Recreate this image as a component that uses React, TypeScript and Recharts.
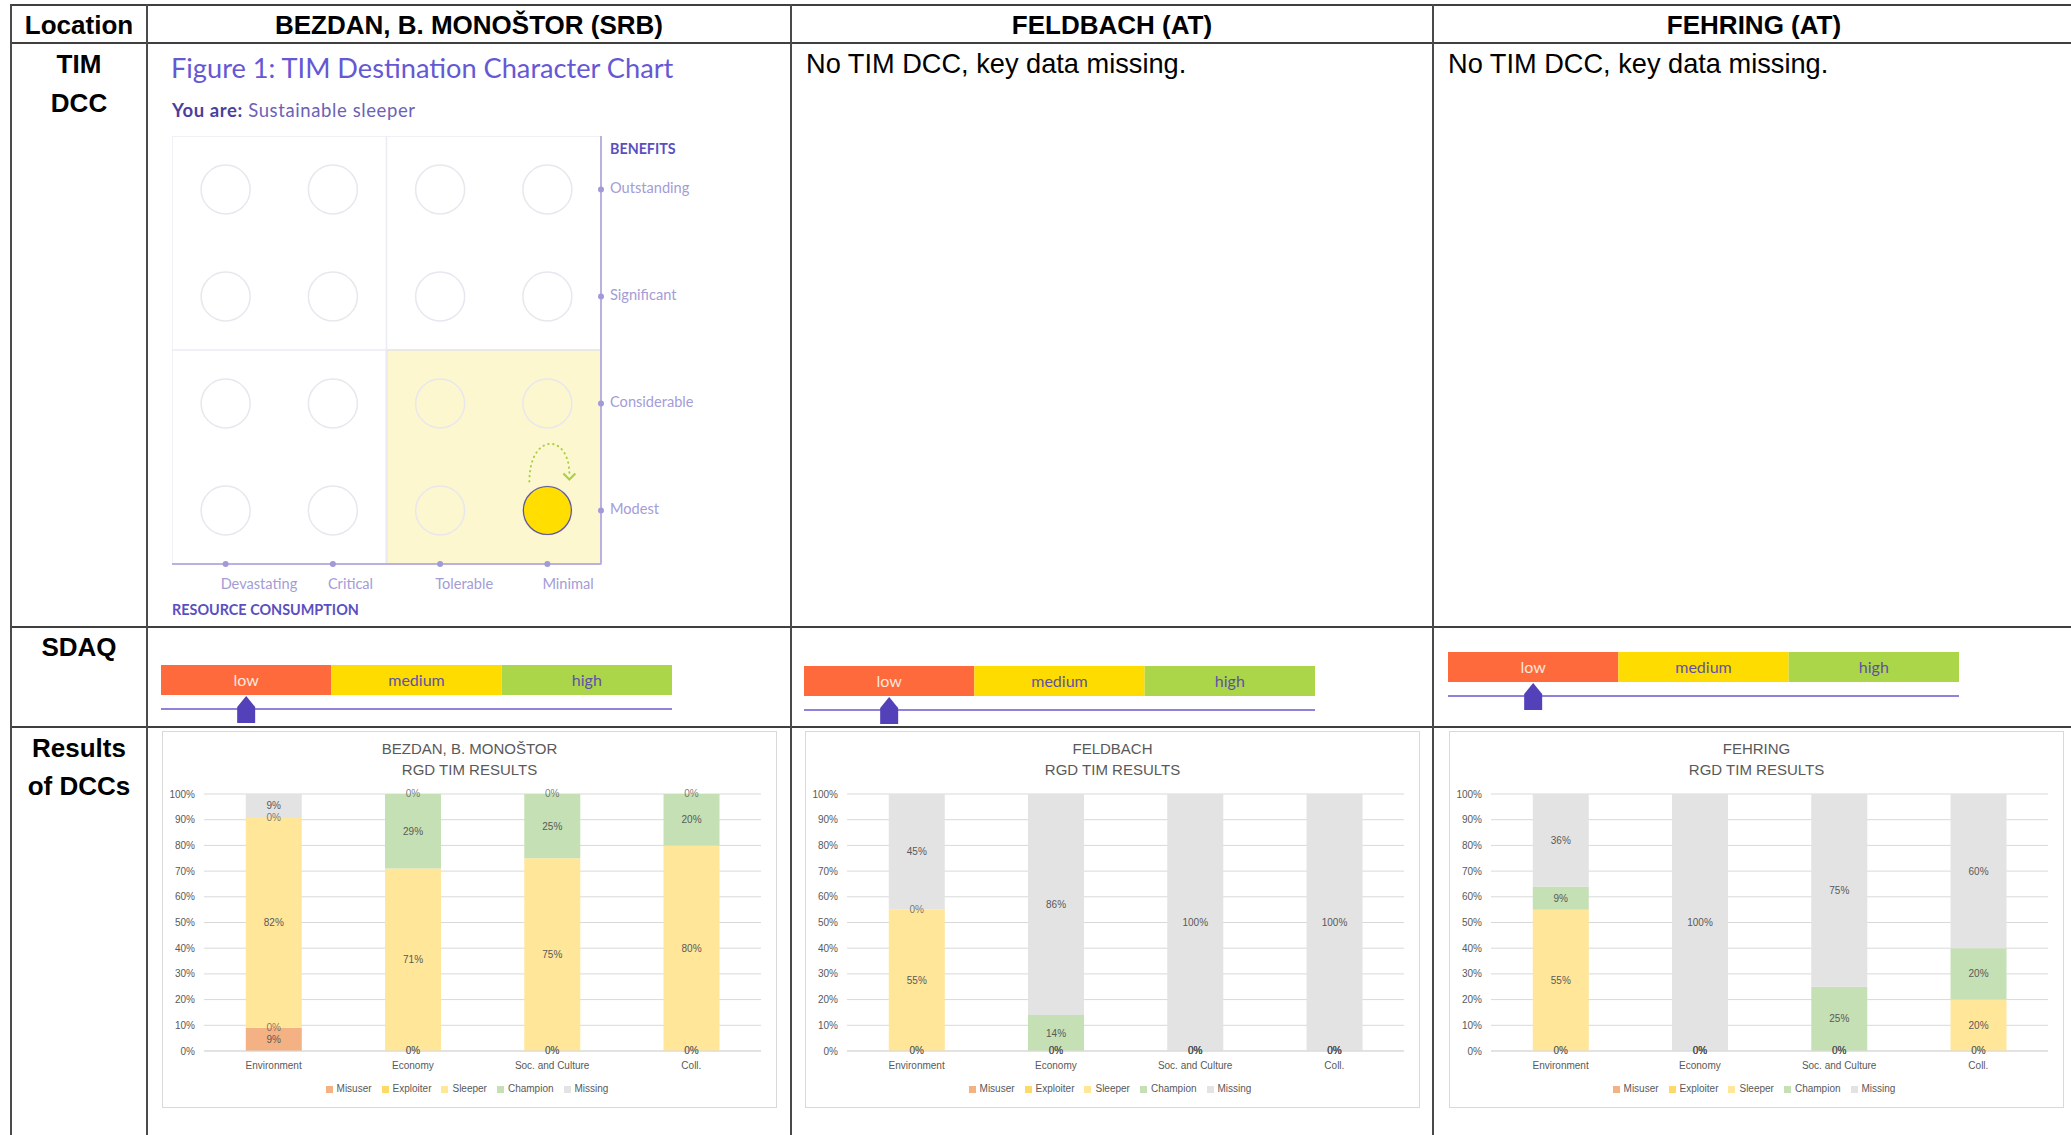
import React from "react";
import {
  Bar,
  BarChart,
  CartesianGrid,
  LabelList,
  Legend,
  ReferenceArea,
  ReferenceLine,
  Scatter,
  ScatterChart,
  XAxis,
  YAxis,
} from "recharts";

// ---- data ----
const LOCATIONS = ["BEZDAN, B. MONOŠTOR (SRB)", "FELDBACH (AT)", "FEHRING (AT)"];
const CHART_TITLES = ["BEZDAN, B. MONOŠTOR", "FELDBACH", "FEHRING"];
const DIMENSIONS = ["Environment", "Economy", "Soc. and Culture", "Coll."];
const TYPES = ["Misuser", "Exploiter", "Sleeper", "Champion", "Missing"];
const TYPE_COLORS = ["#f4b183", "#ffd966", "#ffe699", "#c5e0b4", "#e3e3e3"];
const Y_TICKS = [0, 10, 20, 30, 40, 50, 60, 70, 80, 90, 100];

// one row per type (Misuser..Missing), one column per dimension, in %
const BEZDAN_RESULTS = [
  [9, 0, 0, 0],
  [0, 0, 0, 0],
  [82, 71, 75, 80],
  [0, 29, 25, 20],
  [9, 0, 0, 0],
];
const FELDBACH_RESULTS = [
  [0, 0, 0, 0],
  [0, 0, 0, 0],
  [55, 0, 0, 0],
  [0, 14, 0, 0],
  [45, 86, 100, 100],
];
const FEHRING_RESULTS = [
  [0, 0, 0, 0],
  [0, 0, 0, 0],
  [55, 0, 0, 20],
  [9, 0, 25, 20],
  [36, 100, 75, 60],
];
const ALL_RESULTS = [BEZDAN_RESULTS, FELDBACH_RESULTS, FEHRING_RESULTS];

const SDAQ_LEVELS = ["low", "medium", "high"];
const SDAQ_BANDS = [1, 1, 1];
const SDAQ_COLORS = ["#ff6a3d", "#ffdc00", "#acd64a"];
const SDAQ_TEXT = ["#fde6dc", "#5e52a6", "#5e52a6"];
const SDAQ_SCORES = [0.5, 0.5, 0.5];

const DCC_RESOURCE = ["Devastating", "Critical", "Tolerable", "Minimal"];
const DCC_BENEFITS = ["Modest", "Considerable", "Significant", "Outstanding"];
const DCC_CURRENT = ["Minimal", "Modest"];

// ---- layout ----
const FONT = "'Liberation Sans', Arial, sans-serif";
const GEO = "Lato, 'Noto Sans', sans-serif";
const COL_LINES = [11, 147, 791, 1433];
const ROW_LINES = [5, 43, 627, 727];
const RESULT_LEFT = [162, 805, 1449];
const SDAQ_POS = [
  { left: 161, top: 651 },
  { left: 804, top: 652 },
  { left: 1448, top: 638 },
];
const HEADER_CENTERS = [469, 1112, 1754];

function Txt({
  x,
  cy,
  w,
  align = "left",
  style,
  children,
}: {
  x: number;
  cy: number;
  w: number;
  align?: "left" | "center";
  style?: React.CSSProperties;
  children: React.ReactNode;
}) {
  return (
    <div
      style={{
        position: "absolute",
        left: x,
        top: cy - 30,
        width: w,
        height: 60,
        display: "flex",
        alignItems: "center",
        justifyContent: align === "center" ? "center" : "flex-start",
        whiteSpace: "nowrap",
        ...style,
      }}
    >
      {children}
    </div>
  );
}

function ResourceTick(props: any) {
  const { x, y, payload } = props;
  return (
    <g>
      <circle cx={x} cy={y} r={3} fill="#a29ad8" />
      <text x={x - 5} y={y + 19} dominantBaseline="central" fontSize={14.6} fill="#a49cd6" fontFamily={GEO}>
        {DCC_RESOURCE[Math.floor(payload.value)]}
      </text>
    </g>
  );
}

function BenefitTick(props: any) {
  const { x, y, payload } = props;
  return (
    <g>
      <circle cx={x - 9} cy={y} r={3} fill="#a29ad8" />
      <text x={x} y={y - 2} dominantBaseline="central" fontSize={14.6} fill="#a49cd6" fontFamily={GEO}>
        {DCC_BENEFITS[Math.floor(payload.value)]}
      </text>
    </g>
  );
}

function DccChart() {
  const cells = DCC_BENEFITS.flatMap((_, j) => DCC_RESOURCE.map((__, i) => ({ x: i + 0.5, y: j + 0.5 })));
  const current = [
    { x: DCC_RESOURCE.indexOf(DCC_CURRENT[0]) + 0.5, y: DCC_BENEFITS.indexOf(DCC_CURRENT[1]) + 0.5 },
  ];
  const ticks = DCC_RESOURCE.map((_, i) => i + 0.5);
  return (
    <div style={{ position: "absolute", left: 172, top: 136 }}>
      <ScatterChart width={539} height={468} margin={{ top: 0, right: 0, bottom: 0, left: 0 }}>
        <XAxis
          type="number"
          dataKey="x"
          domain={[0, 4]}
          ticks={ticks}
          interval={0}
          height={40}
          tickSize={0}
          tickMargin={0}
          tickLine={false}
          axisLine={{ stroke: "#b9b2de", strokeWidth: 2 }}
          tick={<ResourceTick />}
        />
        <YAxis
          type="number"
          dataKey="y"
          orientation="right"
          domain={[0, 4]}
          ticks={ticks}
          interval={0}
          width={110}
          tickSize={0}
          tickMargin={9}
          tickLine={false}
          axisLine={{ stroke: "#b9b2de", strokeWidth: 2 }}
          tick={<BenefitTick />}
        />
        <ReferenceArea x1={0} x2={4} y1={0} y2={4} fill="none" stroke="#ecebf3" strokeWidth={1.5} />
        <ReferenceLine x={2} stroke="#ecebf3" strokeWidth={1.5} />
        <ReferenceLine y={2} stroke="#ecebf3" strokeWidth={1.5} />
        <ReferenceArea x1={2} x2={4} y1={0} y2={2} fill="#fdf7cf" fillOpacity={1} stroke="#ddd6a4" strokeWidth={1.5} />
        <Scatter
          data={cells}
          isAnimationActive={false}
          shape={(p: any) => <circle cx={p.cx} cy={p.cy} r={24.5} fill="none" stroke="#e8e7ee" strokeWidth={1.5} />}
        />
        <Scatter
          data={current}
          isAnimationActive={false}
          shape={(p: any) => (
            <g>
              <path
                d={`M ${p.cx - 18} ${p.cy - 29} C ${p.cx - 18} ${p.cy - 78}, ${p.cx + 22} ${p.cy - 78}, ${p.cx + 22} ${p.cy - 36}`}
                fill="none"
                stroke="#a9d04a"
                strokeWidth={2}
                strokeDasharray="0.5 4.5"
                strokeLinecap="round"
              />
              <path
                d={`M ${p.cx + 16} ${p.cy - 37} L ${p.cx + 22} ${p.cy - 31} L ${p.cx + 28} ${p.cy - 37}`}
                fill="none"
                stroke="#a9d04a"
                strokeWidth={2.2}
              />
              <circle cx={p.cx} cy={p.cy} r={24} fill="#ffde00" stroke="#5e5690" strokeWidth={1.2} />
            </g>
          )}
        />
      </ScatterChart>
    </div>
  );
}

function MarkerTick(props: any) {
  const { x, y } = props;
  return <path d={`M ${x} ${y - 13} L ${x + 9} ${y - 2} L ${x + 9} ${y + 14} L ${x - 9} ${y + 14} L ${x - 9} ${y - 2} Z`} fill="#5241b9" />;
}

function SdaqScale({ score, left, top }: { score: number; left: number; top: number }) {
  const row: Record<string, string | number> = { name: "SDAQ" };
  SDAQ_LEVELS.forEach((lvl, i) => (row[lvl] = SDAQ_BANDS[i]));
  return (
    <div style={{ position: "absolute", left, top }}>
      <BarChart layout="vertical" width={511} height={78} data={[row]} margin={{ top: 0, right: 0, bottom: 0, left: 0 }}>
        <XAxis
          type="number"
          domain={[0, 3]}
          ticks={[score]}
          height={20}
          tickSize={0}
          tickMargin={0}
          tickLine={false}
          axisLine={{ stroke: "#8d83dc", strokeWidth: 2 }}
          tick={<MarkerTick />}
        />
        <YAxis type="category" dataKey="name" hide />
        {SDAQ_LEVELS.map((lvl, i) => (
          <Bar key={lvl} dataKey={lvl} stackId="s" fill={SDAQ_COLORS[i]} barSize={30} isAnimationActive={false}>
            <LabelList dataKey={lvl} position="center" formatter={() => lvl} fill={SDAQ_TEXT[i]} fontSize={16} fontFamily={GEO} />
          </Bar>
        ))}
      </BarChart>
    </div>
  );
}

function ShareLabel(p: any) {
  const v = Number(p.value);
  return (
    <text
      x={Number(p.x) + Number(p.width) / 2}
      y={Number(p.y) + Number(p.height) / 2}
      textAnchor="middle"
      dominantBaseline="central"
      fontSize={10}
      fill="#595959"
      fillOpacity={v === 0 ? 0.8 : 1}
    >
      {`${v}%`}
    </text>
  );
}

function ResultsChart({ title, results, left }: { title: string; results: number[][]; left: number }) {
  const data = DIMENSIONS.map((dim, i) => {
    const row: Record<string, string | number> = { dim };
    TYPES.forEach((t, k) => (row[t] = results[k][i]));
    return row;
  });
  return (
    <div
      style={{
        position: "absolute",
        left,
        top: 731,
        width: 615,
        height: 377,
        border: "1px solid #d9d9d9",
        boxSizing: "border-box",
        fontFamily: FONT,
      }}
    >
      <div style={{ position: "absolute", left: 0, right: 0, top: 6, textAlign: "center", color: "#595959", fontSize: 15, lineHeight: "21px" }}>
        {title}
        <br />
        RGD TIM RESULTS
      </div>
      <BarChart width={613} height={375} data={data} margin={{ top: 62, right: 15, bottom: 8, left: 0 }} barCategoryGap="30%">
        <CartesianGrid vertical={false} stroke="#d9d9d9" />
        <XAxis
          dataKey="dim"
          interval={0}
          height={26}
          tickSize={0}
          tickMargin={11}
          tickLine={false}
          axisLine={{ stroke: "#d9d9d9" }}
          tick={{ fontSize: 10, fill: "#595959" }}
        />
        <YAxis
          type="number"
          domain={[0, 100]}
          ticks={Y_TICKS}
          interval={0}
          width={41}
          tickSize={0}
          tickMargin={9}
          tickLine={false}
          axisLine={false}
          tickFormatter={(v: number) => `${v}%`}
          tick={{ fontSize: 10, fill: "#595959" }}
        />
        <Legend
          verticalAlign="bottom"
          height={22}
          iconType="square"
          iconSize={7}
          itemSorter={(item: any) => TYPES.indexOf(item.value)}
          wrapperStyle={{ fontSize: 10, top: 351, left: 10 }}
          formatter={(value: string) => <span style={{ color: "#595959" }}>{value}</span>}
        />
        {TYPES.map((t, k) => (
          <Bar key={t} dataKey={t} stackId="r" fill={TYPE_COLORS[k]} minPointSize={0.01} isAnimationActive={false}>
            <LabelList dataKey={t} content={<ShareLabel />} />
          </Bar>
        ))}
      </BarChart>
    </div>
  );
}

export default function App() {
  const headStyle: React.CSSProperties = { fontFamily: FONT, fontWeight: 700, fontSize: 26, color: "#000" };
  const bodyStyle: React.CSSProperties = { fontFamily: FONT, fontSize: 27.2, color: "#000" };
  return (
    <div style={{ position: "fixed", left: 0, top: 0, width: 2071, height: 1135, overflow: "hidden", background: "#fff" }}>
      {ROW_LINES.map((y) => (
        <div key={`h${y}`} style={{ position: "absolute", left: 10, top: y - 1, width: 2070, height: 2, background: "#3f3f3f" }} />
      ))}
      {COL_LINES.map((x) => (
        <div key={`v${x}`} style={{ position: "absolute", left: x - 1, top: 4, width: 2, height: 1140, background: "#4a4a4a" }} />
      ))}

      <Txt x={11} cy={25} w={136} align="center" style={headStyle}>Location</Txt>
      {LOCATIONS.map((loc, i) => (
        <Txt key={loc} x={HEADER_CENTERS[i] - 300} cy={25} w={600} align="center" style={headStyle}>
          {loc}
        </Txt>
      ))}
      <Txt x={11} cy={64} w={136} align="center" style={headStyle}>TIM</Txt>
      <Txt x={11} cy={103} w={136} align="center" style={headStyle}>DCC</Txt>
      <Txt x={11} cy={647} w={136} align="center" style={headStyle}>SDAQ</Txt>
      <Txt x={11} cy={748} w={136} align="center" style={headStyle}>Results</Txt>
      <Txt x={11} cy={786} w={136} align="center" style={headStyle}>of DCCs</Txt>

      <Txt x={806} cy={64} w={600} style={bodyStyle}>No TIM DCC, key data missing.</Txt>
      <Txt x={1448} cy={64} w={600} style={bodyStyle}>No TIM DCC, key data missing.</Txt>

      <Txt x={171} cy={67} w={600} style={{ fontFamily: GEO, fontSize: 27.2, color: "#6558d4" }}>
        Figure 1: TIM Destination Character Chart
      </Txt>
      <Txt x={172} cy={110} w={400} style={{ fontFamily: GEO, fontSize: 18.5, letterSpacing: 0.6, color: "#6b62b6" }}>
        <b style={{ color: "#4b3f9e" }}>You are:</b>&nbsp;Sustainable sleeper
      </Txt>
      <Txt x={610} cy={148} w={150} style={{ fontFamily: GEO, fontSize: 14.3, fontWeight: 700, color: "#5a4fc0" }}>
        BENEFITS
      </Txt>
      <Txt x={172} cy={609} w={300} style={{ fontFamily: GEO, fontSize: 14.4, fontWeight: 700, color: "#5a4fc0" }}>
        RESOURCE CONSUMPTION
      </Txt>
      <DccChart />

      {SDAQ_SCORES.map((s, i) => (
        <SdaqScale key={i} score={s} left={SDAQ_POS[i].left} top={SDAQ_POS[i].top} />
      ))}

      {ALL_RESULTS.map((r, i) => (
        <ResultsChart key={i} title={CHART_TITLES[i]} results={r} left={RESULT_LEFT[i]} />
      ))}
    </div>
  );
}
